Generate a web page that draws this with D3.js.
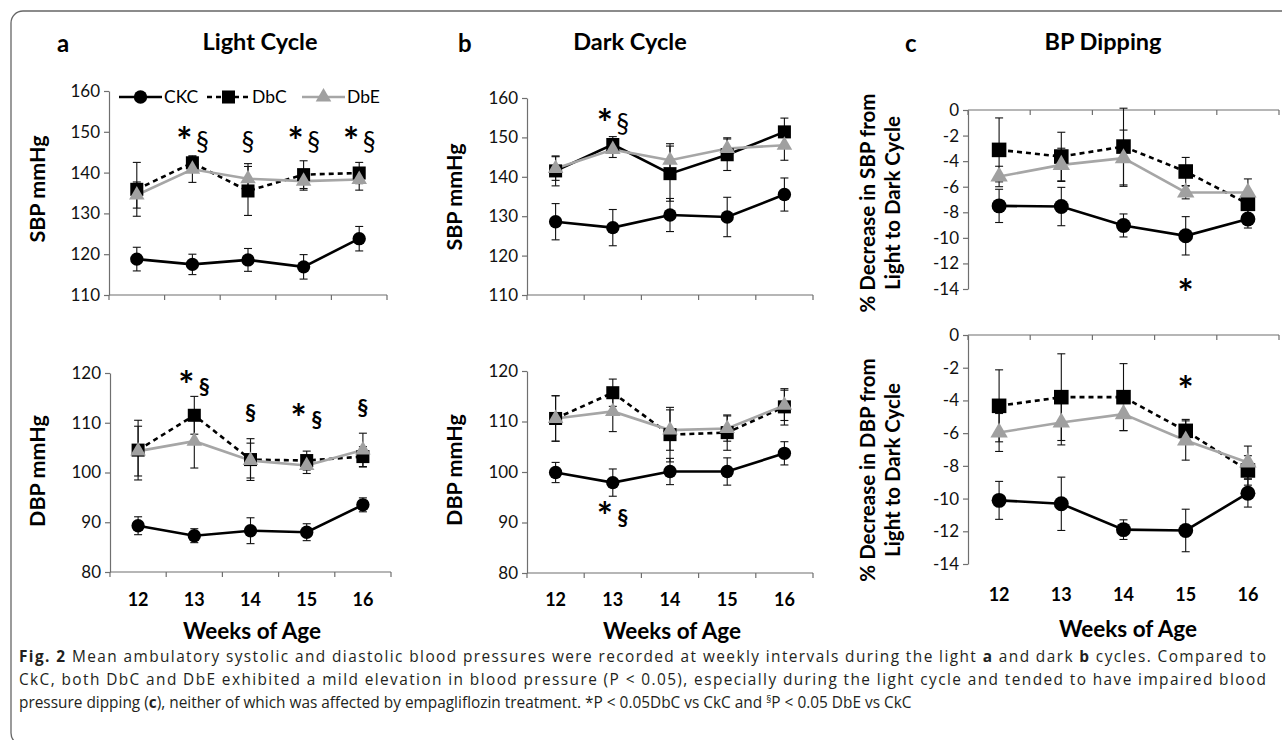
<!DOCTYPE html>
<html>
<head>
<meta charset="utf-8">
<script src="https://cdn.jsdelivr.net/npm/d3@7"></script>
<style>
	body { margin: 0; background: #fff; }
	text { font-family: Lato, 'Open Sans', sans-serif; }
	text.cap { font-family: 'Open Sans', sans-serif; }
</style>
</head>
<body>
<svg id="svg" width="1282" height="740"></svg>
<script>
// data stuffs
const weeks = ['12', '13', '14', '15', '16'];
const sbpTicks = [110, 120, 130, 140, 150, 160];
const dbpTicks = [80, 90, 100, 110, 120];
const dipTicks = [0, -2, -4, -6, -8, -10, -12, -14];

// a - light cycle
const sbpLightCKC = [118.8, 117.5, 118.6, 116.9, 123.8];
const sbpLightCKCErr = [2.9, 2.5, 2.8, 3.0, 3.0];
const sbpLightDbC = [135.9, 142.4, 135.5, 139.5, 139.9];
const sbpLightDbCErr = [6.6, 1.7, 6.0, 3.4, 2.6];
const sbpLightDbE = [134.5, 140.8, 138.5, 137.9, 138.3];
const sbpLightDbEErr = [3.2, 3.2, 3.7, 2.2, 2.6];

const dbpLightCKC = [89.3, 87.3, 88.3, 88.0, 93.5];
const dbpLightCKCErr = [1.8, 1.4, 2.6, 1.7, 1.4];
const dbpLightDbC = [104.5, 111.5, 102.6, 102.4, 103.2];
const dbpLightDbCErr = [6.0, 3.8, 4.2, 1.9, 2.0];
const dbpLightDbE = [104.3, 106.3, 102.4, 101.4, 104.5];
const dbpLightDbEErr = [5.0, 5.4, 3.5, 1.6, 3.4];

// b - dark cycle
const sbpDarkCKC = [128.6, 127.1, 130.3, 129.8, 135.5];
const sbpDarkCKCErr = [4.6, 4.6, 4.2, 5.0, 4.2];
const sbpDarkDbC = [141.5, 148.2, 140.8, 145.6, 151.4];
const sbpDarkDbCErr = [3.8, 2.0, 7.0, 4.0, 3.5];
const sbpDarkDbE = [142.1, 146.9, 144.2, 147.2, 148.0];
const sbpDarkDbEErr = [3.0, 2.0, 4.2, 2.7, 3.8];

const dbpDarkCKC = [99.9, 97.9, 100.1, 100.1, 103.7];
const dbpDarkCKCErr = [2.0, 2.7, 2.6, 2.7, 2.3];
const dbpDarkDbC = [110.6, 115.7, 107.4, 107.8, 112.9];
const dbpDarkDbCErr = [4.5, 2.7, 5.4, 3.5, 3.6];
const dbpDarkDbE = [110.6, 112.0, 108.3, 108.6, 113.2];
const dbpDarkDbEErr = [4.5, 4.0, 4.0, 2.5, 3.0];

// c - dipping
const sbpDipCKC = [-7.5, -7.55, -9.03, -9.84, -8.53];
const sbpDipCKCErr = [1.3, 1.5, 0.9, 1.5, 0.7];
const sbpDipDbC = [-3.12, -3.64, -2.86, -4.81, -7.34];
const sbpDipDbCErr = [2.5, 1.9, 3.0, 1.1, 1.0];
const sbpDipDbE = [-5.2, -4.29, -3.77, -6.45, -6.45];
const sbpDipDbEErr = [0.8, 1.3, 2.2, 0.5, 1.06];

const dbpDipCKC = [-10.11, -10.32, -11.9, -11.95, -9.67];
const dbpDipCKCErr = [1.16, 1.63, 0.6, 1.3, 0.85];
const dbpDipDbC = [-4.33, -3.8, -3.8, -5.86, -8.28];
const dbpDipDbCErr = [2.2, 2.65, 2.05, 0.7, 0.9];
const dbpDipDbE = [-5.96, -5.35, -4.84, -6.45, -7.79];
const dbpDipDbEErr = [1.16, 1.37, 1.0, 1.2, 1.0];

// significance marks (at = value where the * sits)
const sigLightSbp = [
	{ week: '13', star: true, sect: true, at: 149.7 },
	{ week: '14', star: false, sect: true, at: 149.7 },
	{ week: '15', star: true, sect: true, at: 149.7 },
	{ week: '16', star: true, sect: true, at: 149.7 },
];
const sigLightDbp = [
	{ week: '13', star: true, sect: true, at: 119.2 },
	{ week: '14', star: false, sect: true, at: 113.9 },
	{ week: '15', star: true, sect: true, at: 112.6 },
	{ week: '16', star: false, sect: true, at: 115.0 },
];
const sigDarkSbp = [{ week: '13', star: true, sect: true, at: 155.7 }];
const sigDarkDbp = [{ week: '13', star: true, sect: true, at: 92.9 }];
const sigDipSbp = [{ week: '15', star: true, sect: false, at: -13.7 }];
const sigDipDbp = [{ week: '15', star: true, sect: false, at: -2.87 }];

const seriesNames = ['CKC', 'DbC', 'DbE'];

const svg = d3.select('#svg');

// frame
svg
	.append('rect')
	.attr('x', 11)
	.attr('y', 11)
	.attr('width', 1320)
	.attr('height', 734)
	.attr('rx', 12)
	.attr('fill', 'none')
	.attr('stroke', '#666')
	.attr('stroke-width', 1.3);

function makeSeries(c, ce, b, be, e, ee) {
	return [
		{ name: 'CKC', vals: c, errs: ce },
		{ name: 'DbC', vals: b, errs: be },
		{ name: 'DbE', vals: e, errs: ee },
	];
}

const styles = {
	CKC: { stroke: '#000', dash: null, fill: '#000', sym: d3.symbolCircle, size: 140 },
	DbC: { stroke: '#000', dash: '5,4', fill: '#000', sym: d3.symbolSquare, size: 170 },
	DbE: { stroke: '#a6a6a6', dash: null, fill: '#a0a0a0', sym: d3.symbolTriangle, size: 105 },
};

function drawPanel(p) {
	const g = svg.append('g');
	const x = d3.scaleBand().domain(weeks).range([p.x0, p.x1]);
	const y = d3.scaleLinear().domain(p.domain).range([p.yb, p.yt]);
	const cx = (w) => x(w) + x.bandwidth() / 2;
	const big = p.big ? 1.25 : 1;

	// y axis
	const ya = g
		.append('g')
		.attr('transform', `translate(${p.x0},0)`)
		.call(
			d3
				.axisLeft(y)
				.tickValues(p.ticks)
				.tickSize(5)
				.tickSizeOuter(0)
				.tickPadding(4)
				.tickFormat((d) => String(d))
		);
	ya.select('.domain').attr('stroke', '#6f6f6f').attr('stroke-width', 1.2);
	ya.selectAll('.tick line').attr('stroke', '#6f6f6f').attr('stroke-width', 1.2);
	ya.selectAll('.tick text')
		.attr('font-family', 'Lato')
		.attr('font-size', 17)
		.attr('fill', '#111');

	// x axis (ticks on band edges)
	const xAt = y(p.xAxisValue);
	g.append('line')
		.attr('x1', p.x0)
		.attr('x2', p.x1)
		.attr('y1', xAt)
		.attr('y2', xAt)
		.attr('stroke', '#6f6f6f')
		.attr('stroke-width', 1.2);
	g.selectAll('.xtick')
		.data(d3.range(weeks.length + 1))
		.enter()
		.append('line')
		.attr('x1', (i) => p.x0 + i * x.step())
		.attr('x2', (i) => p.x0 + i * x.step())
		.attr('y1', xAt)
		.attr('y2', xAt + 5)
		.attr('stroke', '#6f6f6f')
		.attr('stroke-width', 1.2);

	if (p.weekY) {
		g.selectAll('.wk')
			.data(weeks)
			.enter()
			.append('text')
			.attr('x', (d) => cx(d))
			.attr('y', p.weekY)
			.attr('text-anchor', 'middle')
			.attr('font-weight', 'bold')
			.attr('font-size', 18)
			.text((d) => d);
		g.append('text')
			.attr('x', p.xlabX)
			.attr('y', p.xlabY)
			.attr('text-anchor', 'middle')
			.attr('font-weight', 'bold')
			.attr('font-size', 22.5)
			.text('Weeks of Age');
	}

	// y label
	p.ylab.forEach((t, i) => {
		g.append('text')
			.attr('transform', `translate(${p.ylabX[i]},${p.ylabY}) rotate(-90)`)
			.attr('text-anchor', 'middle')
			.attr('font-weight', 'bold')
			.attr('font-size', p.ylabSize)
			.text(t);
	});

	// error bars
	p.series.forEach((s) => {
		const eg = g.append('g');
		s.vals.forEach((v, i) => {
			const xx = cx(weeks[i]);
			const hi = y(v + s.errs[i]);
			const lo = y(v - s.errs[i]);
			eg.append('line').attr('x1', xx).attr('x2', xx).attr('y1', hi).attr('y2', lo);
			eg.append('line').attr('x1', xx - 4).attr('x2', xx + 4).attr('y1', hi).attr('y2', hi);
			eg.append('line').attr('x1', xx - 4).attr('x2', xx + 4).attr('y1', lo).attr('y2', lo);
		});
		eg.selectAll('line').attr('stroke', '#111').attr('stroke-width', 1.1);
	});

	// lines
	const line = d3
		.line()
		.x((d, i) => cx(weeks[i]))
		.y((d) => y(d));
	p.series.forEach((s) => {
		const st = styles[s.name];
		const dash = s.name === 'DbC' && p.solidDbC ? null : st.dash;
		g.append('path')
			.datum(s.vals)
			.attr('d', line)
			.attr('fill', 'none')
			.attr('stroke', st.stroke)
			.attr('stroke-width', 2.6)
			.attr('stroke-dasharray', dash);
	});

	// markers
	p.series.forEach((s) => {
		const st = styles[s.name];
		g.selectAll('.m' + s.name)
			.data(s.vals)
			.enter()
			.append('path')
			.attr('d', d3.symbol().type(st.sym).size(st.size * big))
			.attr('transform', (d, i) => `translate(${cx(weeks[i])},${y(d)})`)
			.attr('fill', st.fill);
	});

	// significance
	p.sig.forEach((m) => {
		const xx = cx(m.week);
		const yy = y(m.at);
		if (m.star) {
			g.append('text')
				.attr('x', m.sect ? xx - 8 : xx)
				.attr('y', yy + 22)
				.attr('text-anchor', 'middle')
				.attr('font-family', 'Liberation Sans')
				.attr('font-weight', 'bold')
				.attr('font-size', 38)
				.text('*');
		}
		if (m.sect) {
			g.append('text')
				.attr('x', m.star ? xx + 10 : xx)
				.attr('y', yy + 18)
				.attr('text-anchor', 'middle')
				.attr('font-family', p.serifSect ? 'Liberation Serif' : 'Lato')
				.attr('font-weight', p.serifSect ? 'normal' : 'bold')
				.attr('font-size', p.serifSect ? 26 : 22)
				.text('§');
		}
	});
	return { x, y };
}

const panels = [
	{
		x0: 109, x1: 387, yt: 91, yb: 295, domain: [110, 160], ticks: sbpTicks, xAxisValue: 110,
		ylab: ['SBP mmHg'], ylabX: [45], ylabY: 189, ylabSize: 21.5,
		series: makeSeries(sbpLightCKC, sbpLightCKCErr, sbpLightDbC, sbpLightDbCErr, sbpLightDbE, sbpLightDbEErr),
		sig: sigLightSbp, serifSect: true,
	},
	{
		x0: 110, x1: 391, yt: 373, yb: 572, domain: [80, 120], ticks: dbpTicks, xAxisValue: 80,
		ylab: ['DBP mmHg'], ylabX: [45], ylabY: 471, ylabSize: 21.5,
		weekY: 606, xlabX: 252, xlabY: 639,
		series: makeSeries(dbpLightCKC, dbpLightCKCErr, dbpLightDbC, dbpLightDbCErr, dbpLightDbE, dbpLightDbEErr),
		sig: sigLightDbp, serifSect: false,
	},
	{
		x0: 527, x1: 813, yt: 98, yb: 295, domain: [110, 160], ticks: sbpTicks, xAxisValue: 110,
		ylab: ['SBP mmHg'], ylabX: [462], ylabY: 197, ylabSize: 21.5, solidDbC: true,
		series: makeSeries(sbpDarkCKC, sbpDarkCKCErr, sbpDarkDbC, sbpDarkDbCErr, sbpDarkDbE, sbpDarkDbEErr),
		sig: sigDarkSbp, serifSect: true,
	},
	{
		x0: 527, x1: 813, yt: 371, yb: 573, domain: [80, 120], ticks: dbpTicks, xAxisValue: 80,
		ylab: ['DBP mmHg'], ylabX: [462], ylabY: 470, ylabSize: 21.5,
		weekY: 606, xlabX: 672, xlabY: 639,
		series: makeSeries(dbpDarkCKC, dbpDarkCKCErr, dbpDarkDbC, dbpDarkDbCErr, dbpDarkDbE, dbpDarkDbEErr),
		sig: sigDarkDbp, serifSect: false,
	},
	{
		x0: 968, x1: 1279, yt: 110, yb: 289, domain: [-14, 0], ticks: dipTicks, xAxisValue: 0,
		ylab: ['% Decrease in SBP from', 'Light to Dark Cycle'], ylabX: [875, 900], ylabY: 203, ylabSize: 20.5, big: true,
		series: makeSeries(sbpDipCKC, sbpDipCKCErr, sbpDipDbC, sbpDipDbCErr, sbpDipDbE, sbpDipDbEErr),
		sig: sigDipSbp, serifSect: false,
	},
	{
		x0: 968, x1: 1279, yt: 335, yb: 564, domain: [-14, 0], ticks: dipTicks, xAxisValue: 0,
		ylab: ['% Decrease in DBP from', 'Light to Dark Cycle'], ylabX: [875, 900], ylabY: 470, ylabSize: 20.5, big: true,
		weekY: 601, xlabX: 1128, xlabY: 637,
		series: makeSeries(dbpDipCKC, dbpDipCKCErr, dbpDipDbC, dbpDipDbCErr, dbpDipDbE, dbpDipDbEErr),
		sig: sigDipDbp, serifSect: false,
	},
];

panels.forEach(drawPanel);

// titles and letters
const titles = [
	{ letter: 'a', lx: 57, title: 'Light Cycle', tx: 260 },
	{ letter: 'b', lx: 458, title: 'Dark Cycle', tx: 630 },
	{ letter: 'c', lx: 905, title: 'BP Dipping', tx: 1103 },
];
titles.forEach((t) => {
	svg.append('text')
		.attr('x', t.lx)
		.attr('y', 52)
		.attr('font-family', 'Liberation Sans')
		.attr('font-weight', 'bold')
		.attr('font-size', 24)
		.text(t.letter);
	svg.append('text')
		.attr('x', t.tx)
		.attr('y', 50)
		.attr('text-anchor', 'middle')
		.attr('font-weight', 'bold')
		.attr('font-size', 23.5)
		.text(t.title);
});

// legend
const legend = svg.append('g').attr('transform', 'translate(0,97)');
const legendX = [119, 207, 302];
seriesNames.forEach((n, i) => {
	const st = styles[n];
	const lx = legendX[i];
	legend.append('line')
		.attr('x1', lx)
		.attr('x2', lx + 43)
		.attr('stroke', st.stroke)
		.attr('stroke-width', 2.6)
		.attr('stroke-dasharray', st.dash);
	legend.append('path')
		.attr('d', d3.symbol().type(st.sym).size(st.size))
		.attr('transform', `translate(${lx + 21.5},0)`)
		.attr('fill', st.fill);
	legend.append('text')
		.attr('x', lx + 45)
		.attr('y', 6)
		.attr('font-size', 17.5)
		.text(n);
});

// caption
const cap = svg.append('g').attr('font-size', 15.4).attr('fill', '#231f20');
const l1 = cap.append('text').attr('class', 'cap').attr('x', 19).attr('y', 662).attr('textLength', 1247).attr('lengthAdjust', 'spacing');
l1.append('tspan').attr('font-weight', 'bold').text('Fig. 2');
l1.append('tspan').text('  Mean ambulatory systolic and diastolic blood pressures were recorded at weekly intervals during the light ');
l1.append('tspan').attr('font-weight', 'bold').text('a');
l1.append('tspan').text(' and dark ');
l1.append('tspan').attr('font-weight', 'bold').text('b');
l1.append('tspan').text(' cycles. Compared to');

cap.append('text').attr('class', 'cap').attr('x', 19).attr('y', 685).attr('textLength', 1247).attr('lengthAdjust', 'spacing')
	.text('CkC, both DbC and DbE exhibited a mild elevation in blood pressure (P < 0.05), especially during the light cycle and tended to have impaired blood');

const l3 = cap.append('text').attr('class', 'cap').attr('x', 19).attr('y', 708);
l3.append('tspan').text('pressure dipping (');
l3.append('tspan').attr('font-weight', 'bold').text('c');
l3.append('tspan').text('), neither of which was affected by empagliflozin treatment. *P < 0.05DbC vs CkC and ');
l3.append('tspan').attr('font-size', 10).attr('dy', -5).text('§');
l3.append('tspan').attr('dy', 5).text('P < 0.05 DbE vs CkC');
</script>
</body>
</html>
